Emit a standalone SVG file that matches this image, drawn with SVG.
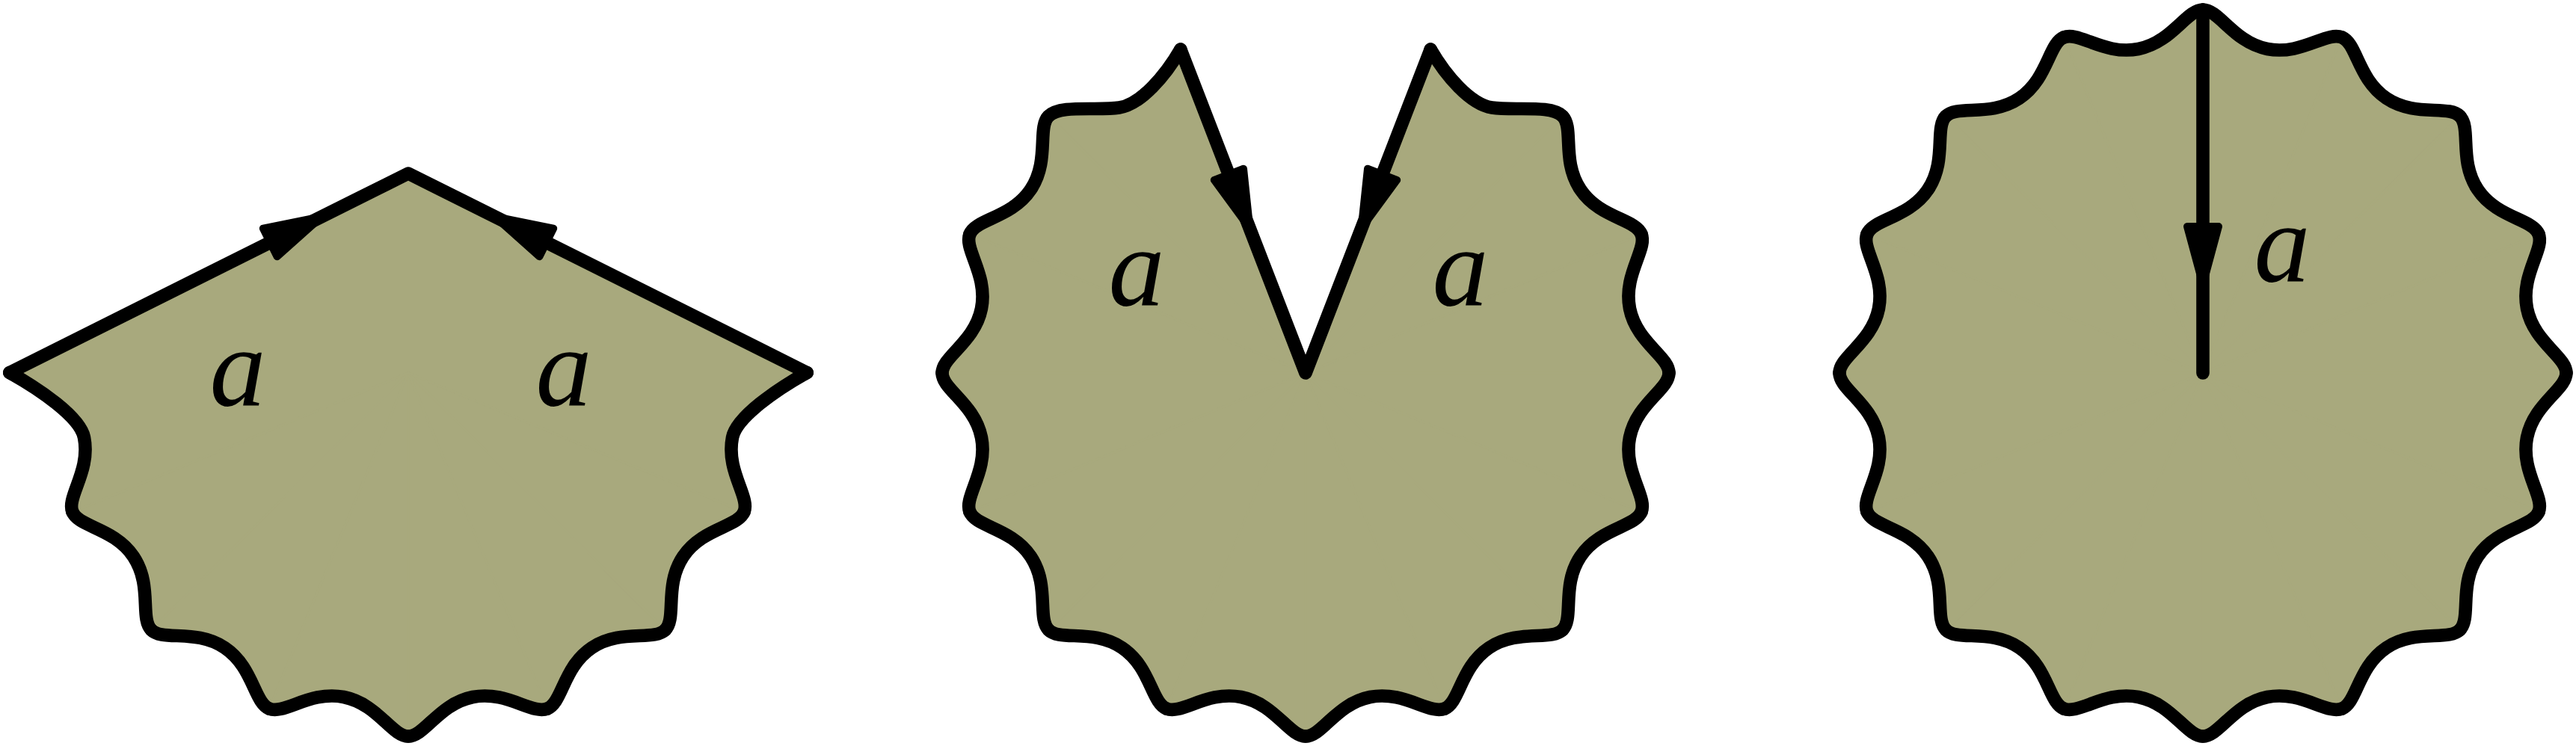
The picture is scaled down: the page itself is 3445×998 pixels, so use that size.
<svg xmlns="http://www.w3.org/2000/svg" width="3445" height="998" viewBox="0 0 3445 998">
<style>
.fill{fill:#a8a97d;stroke:#a8a97d;stroke-width:3;stroke-linejoin:round}
.line{fill:none;stroke:#000;stroke-width:17.6;stroke-linecap:round;stroke-linejoin:round}
.head{fill:#000;stroke:#000;stroke-width:10;stroke-linejoin:round}
.lbl{font-family:"Liberation Serif","DejaVu Serif",serif;font-style:italic;font-size:150px;text-anchor:middle;fill:#000}
</style>
<defs>
<path id="wave" d="M0,486 C22,486 41.11,442.47 86.23,433.5 C131.35,424.53 165.66,457.42 185.98,449"/>
<path id="wedge" d="M0,0 L0,486 C22,486 41.11,442.47 86.23,433.5 C131.35,424.53 165.66,457.42 185.98,449 Z"/>
<path id="head" d="M5,-21 L82.8,0 L5,21 Z"/>
</defs>
<rect width="3445" height="998" fill="#fff"/>

<g id="shape1">
 <g class="fill" transform="translate(546,499)">
  <use href="#wedge" transform="rotate(67.5)"/>
  <use href="#wedge" transform="rotate(45)"/>
  <use href="#wedge" transform="rotate(22.5)"/>
  <use href="#wedge" transform="rotate(0)"/>
  <use href="#wedge" transform="rotate(-22.5)"/>
  <use href="#wedge" transform="rotate(-45)"/>
 </g>
 <path class="fill" d="M546,499 L995,685 C1003.42,664.66 970.53,630.35 979.5,585.2 C984.96,557.74 1039.8,520.3 1079.2,498.5 L546,232 L12.8,498.5 C52.2,520.3 107.04,557.74 112.5,585.2 C121.47,630.35 88.58,664.66 97,685 Z"/>
 <g class="line" transform="translate(546,499)">
  <use href="#wave" transform="rotate(67.5)"/>
  <use href="#wave" transform="rotate(45)"/>
  <use href="#wave" transform="rotate(22.5)"/>
  <use href="#wave" transform="rotate(0)"/>
  <use href="#wave" transform="rotate(-22.5)"/>
  <use href="#wave" transform="rotate(-45)"/>
 </g>
 <path class="line" d="M12.8,498.5 C52.2,520.3 107.04,557.74 112.5,585.2 C121.47,630.35 88.58,664.66 97,685"/>
 <path class="line" d="M995,685 C1003.42,664.66 970.53,630.35 979.5,585.2 C984.96,557.74 1039.8,520.3 1079.2,498.5"/>
</g>

<g id="shape2">
 <g class="fill" transform="translate(1746,499)">
  <use href="#wedge" transform="rotate(135)"/>
  <use href="#wedge" transform="rotate(112.5)"/>
  <use href="#wedge" transform="rotate(90)"/>
  <use href="#wedge" transform="rotate(67.5)"/>
  <use href="#wedge" transform="rotate(45)"/>
  <use href="#wedge" transform="rotate(22.5)"/>
  <use href="#wedge" transform="rotate(0)"/>
  <use href="#wedge" transform="rotate(-22.5)"/>
  <use href="#wedge" transform="rotate(-45)"/>
  <use href="#wedge" transform="rotate(-67.5)"/>
  <use href="#wedge" transform="rotate(-90)"/>
  <use href="#wedge" transform="rotate(-112.5)"/>
 </g>
 <path class="fill" d="M1746,499 L1578.8,66.1 C1558.8,100.7 1526.1,139.5 1496.7,144 C1467.3,148.5 1417.91,139.79 1402.35,155.35 Z M1746,499 L2089.65,155.35 C2074.09,139.79 2024.7,148.5 1995.3,144 C1965.9,139.5 1933.2,100.7 1913.2,66.1 Z"/>
 <g class="line" transform="translate(1746,499)">
  <use href="#wave" transform="rotate(135)"/>
  <use href="#wave" transform="rotate(112.5)"/>
  <use href="#wave" transform="rotate(90)"/>
  <use href="#wave" transform="rotate(67.5)"/>
  <use href="#wave" transform="rotate(45)"/>
  <use href="#wave" transform="rotate(22.5)"/>
  <use href="#wave" transform="rotate(0)"/>
  <use href="#wave" transform="rotate(-22.5)"/>
  <use href="#wave" transform="rotate(-45)"/>
  <use href="#wave" transform="rotate(-67.5)"/>
  <use href="#wave" transform="rotate(-90)"/>
  <use href="#wave" transform="rotate(-112.5)"/>
 </g>
 <path class="line" d="M1578.8,66.1 C1558.8,100.7 1526.1,139.5 1496.7,144 C1467.3,148.5 1417.91,139.79 1402.35,155.35"/>
 <path class="line" d="M2089.65,155.35 C2074.09,139.79 2024.7,148.5 1995.3,144 C1965.9,139.5 1933.2,100.7 1913.2,66.1"/>
</g>

<g id="shape3">
 <g class="fill" transform="translate(2946,499)">
  <use href="#wedge" transform="rotate(0)"/>
  <use href="#wedge" transform="rotate(22.5)"/>
  <use href="#wedge" transform="rotate(45)"/>
  <use href="#wedge" transform="rotate(67.5)"/>
  <use href="#wedge" transform="rotate(90)"/>
  <use href="#wedge" transform="rotate(112.5)"/>
  <use href="#wedge" transform="rotate(135)"/>
  <use href="#wedge" transform="rotate(157.5)"/>
  <use href="#wedge" transform="rotate(180)"/>
  <use href="#wedge" transform="rotate(202.5)"/>
  <use href="#wedge" transform="rotate(225)"/>
  <use href="#wedge" transform="rotate(247.5)"/>
  <use href="#wedge" transform="rotate(270)"/>
  <use href="#wedge" transform="rotate(292.5)"/>
  <use href="#wedge" transform="rotate(315)"/>
  <use href="#wedge" transform="rotate(337.5)"/>
 </g>
 <g class="line" transform="translate(2946,499)">
  <use href="#wave" transform="rotate(0)"/>
  <use href="#wave" transform="rotate(22.5)"/>
  <use href="#wave" transform="rotate(45)"/>
  <use href="#wave" transform="rotate(67.5)"/>
  <use href="#wave" transform="rotate(90)"/>
  <use href="#wave" transform="rotate(112.5)"/>
  <use href="#wave" transform="rotate(135)"/>
  <use href="#wave" transform="rotate(157.5)"/>
  <use href="#wave" transform="rotate(180)"/>
  <use href="#wave" transform="rotate(202.5)"/>
  <use href="#wave" transform="rotate(225)"/>
  <use href="#wave" transform="rotate(247.5)"/>
  <use href="#wave" transform="rotate(270)"/>
  <use href="#wave" transform="rotate(292.5)"/>
  <use href="#wave" transform="rotate(315)"/>
  <use href="#wave" transform="rotate(337.5)"/>
 </g>
</g>

<g id="connectors">
 <path class="line" d="M12.8,498.5 L546,232 L1079.2,498.5"/>
 <path class="line" d="M1578.8,66.1 L1746,499 L1913.2,66.1"/>
 <path class="line" d="M2946,13 L2946,499"/>
 <use href="#head" class="head" transform="translate(356.7,326.6) rotate(-26.56)"/>
 <use href="#head" class="head" transform="translate(735.3,326.6) rotate(-153.44)"/>
 <use href="#head" class="head" transform="translate(1641.6,228.6) rotate(68.88)"/>
 <use href="#head" class="head" transform="translate(1850.4,228.6) rotate(111.12)"/>
 <use href="#head" class="head" transform="translate(2946,298) rotate(90)"/>
</g>

<g id="labels">
 <text class="lbl" x="318" y="542">a</text>
 <text class="lbl" x="754" y="542">a</text>
 <text class="lbl" x="1520" y="408">a</text>
 <text class="lbl" x="1953" y="408">a</text>
 <text class="lbl" x="3052" y="376">a</text>
</g>
</svg>
